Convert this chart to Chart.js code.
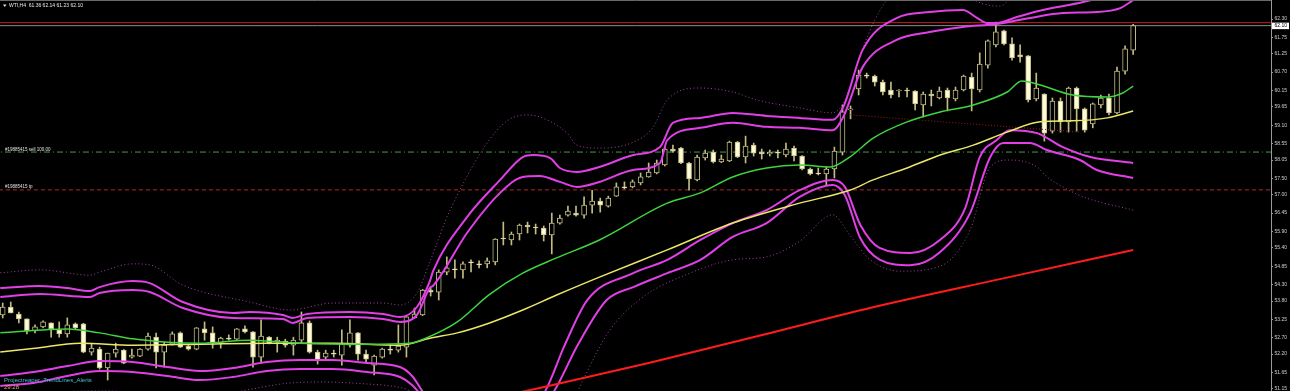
<!DOCTYPE html>
<html>
<head>
<meta charset="utf-8">
<script src="https://cdn.jsdelivr.net/npm/chart.js@4.4.1/dist/chart.umd.min.js"></script>
<style>
html,body{margin:0;padding:0;background:#000;}
#wrap{position:relative;width:1290px;height:391px;}
</style>
</head>
<body>
<div id="wrap"><canvas id="c" width="1290" height="391"></canvas></div>
<script>
// ---- candles (index 0..140), WTI H4 ----
const opens = [
53.38,53.62,53.41,53.26,52.90,53.02,53.14,52.93,52.81,53.11,
53.11,52.26,52.35,51.78,52.23,52.32,52.11,52.14,52.35,52.71,
52.26,52.50,52.84,52.44,52.35,52.96,52.84,52.53,52.68,52.65,
52.96,52.87,52.11,52.71,52.56,52.59,52.47,52.62,53.14,52.26,
52.11,52.23,52.17,52.47,52.84,52.20,51.87,52.11,52.35,52.32,
52.41,53.29,53.38,54.13,54.07,54.67,54.77,54.74,54.98,54.92,
54.92,54.98,55.70,55.64,55.82,56.09,56.03,56.00,55.79,56.15,
56.39,56.45,56.39,56.69,56.81,56.66,56.96,57.24,57.24,57.36,
57.54,57.66,57.90,58.38,58.41,57.96,57.45,58.11,58.29,57.99,
58.02,58.59,58.14,58.50,58.29,58.23,58.29,58.20,58.41,58.17,
57.78,57.66,57.63,57.78,58.29,59.56,60.19,60.61,60.58,60.40,
60.16,60.13,60.16,60.13,59.71,60.04,59.92,60.16,59.89,60.16,
60.55,60.16,60.91,61.52,61.94,61.55,61.22,61.19,59.89,60.04,
58.92,59.83,59.20,60.22,59.59,59.14,59.71,59.92,59.47,60.73,
61.36];
const highs = [
53.74,53.77,53.47,53.26,53.08,53.20,53.14,53.17,53.29,53.14,
53.13,52.53,52.41,52.23,52.53,52.34,52.35,52.37,52.83,52.83,
52.56,52.87,52.87,52.47,53.00,53.17,53.02,52.71,52.78,52.97,
53.05,52.88,53.23,52.73,52.71,52.65,52.71,53.47,53.20,52.32,
52.32,52.32,52.93,53.23,52.85,52.32,52.17,52.38,52.50,53.08,
53.34,53.59,54.15,54.22,54.74,55.13,55.04,54.98,55.04,55.01,
55.10,55.68,56.18,55.88,56.12,56.18,56.12,56.06,56.45,56.39,
56.66,56.66,56.94,57.14,56.90,56.96,57.36,57.39,57.45,57.66,
57.96,58.05,58.44,58.50,58.43,57.98,58.20,58.35,58.35,58.20,
58.62,58.61,58.77,58.56,58.38,58.35,58.35,58.56,58.47,58.18,
57.81,57.81,57.84,58.44,59.71,59.68,60.76,60.67,60.61,60.46,
60.40,60.17,60.22,60.14,60.10,60.16,60.25,60.22,60.25,60.61,
60.67,61.28,61.67,62.21,61.97,61.73,61.52,61.20,60.67,60.05,
59.92,59.92,60.25,60.25,59.62,59.77,60.01,60.04,60.85,61.49,
62.14];
const lows = [
53.29,53.44,53.14,52.81,52.84,52.99,52.71,52.71,52.71,52.96,
52.24,52.17,51.75,51.42,52.11,51.91,52.08,52.12,52.32,51.78,
51.81,52.47,52.40,52.32,52.33,52.62,52.38,52.38,52.62,52.64,
52.84,51.81,51.93,52.51,52.26,52.41,52.17,52.56,52.23,51.90,
52.02,52.11,51.87,52.41,52.02,51.96,51.57,52.08,52.20,52.26,
52.11,53.28,53.36,53.95,53.83,54.59,54.49,54.49,54.68,54.80,
54.80,54.89,55.49,55.49,55.64,55.85,55.82,55.61,55.22,56.12,
56.36,56.36,56.30,56.45,56.48,56.63,56.95,57.18,57.21,57.30,
57.53,57.63,57.87,58.29,57.94,57.14,57.42,58.05,57.96,57.97,
58.00,58.12,57.96,58.17,58.08,58.17,58.11,58.14,58.02,57.75,
57.60,57.60,57.30,57.51,58.20,59.29,60.01,60.52,60.28,60.01,
59.92,59.95,59.95,59.56,59.35,59.68,59.89,59.53,59.83,60.13,
59.53,60.10,60.82,61.46,61.52,61.06,61.00,59.80,59.83,58.62,
58.86,58.89,58.89,58.92,58.89,59.02,59.62,59.41,59.44,60.64,
61.23];
const closes = [
53.62,53.44,53.26,52.90,53.02,53.17,52.96,52.81,53.08,52.99,
52.26,52.38,51.78,52.23,52.35,51.93,52.17,52.35,52.74,52.26,
52.47,52.81,52.41,52.35,52.99,52.84,52.53,52.68,52.65,52.96,
52.87,52.11,52.74,52.53,52.62,52.47,52.62,53.14,52.26,52.02,
52.23,52.20,52.50,52.84,52.20,52.05,52.14,52.35,52.32,52.44,
53.32,53.41,54.13,54.07,54.67,54.80,54.74,54.92,54.95,54.89,
55.01,55.67,55.67,55.82,56.09,56.03,56.00,55.79,56.15,56.30,
56.51,56.39,56.69,56.81,56.69,56.90,57.24,57.21,57.39,57.54,
57.69,57.96,58.38,58.32,57.96,57.48,58.14,58.26,57.99,58.08,
58.59,58.14,58.47,58.26,58.23,58.29,58.26,58.38,58.17,57.78,
57.63,57.63,57.78,58.32,59.50,59.59,60.61,60.58,60.40,60.10,
60.01,60.16,60.13,59.74,60.04,59.98,60.13,59.92,60.16,60.58,
60.19,60.94,61.64,61.91,61.55,61.13,61.16,59.86,60.22,58.86,
59.83,59.20,60.22,59.59,58.95,59.74,59.92,59.47,60.73,61.40,
62.10];

// ---- indicator lines: [candle index, price] ----
const maFast = [[-0.3,52.84],[8,52.96],[12,52.84],[16.1,52.66],[20.4,52.56],[24.4,52.53],[30.6,52.62],[36.8,52.53],[45.1,52.50],[50.4,52.53],[52.4,52.68],[56.3,53.17],[60.3,54.0],[64.4,54.64],[68.6,55.10],[73.9,55.64],[82.3,56.75],[86.4,57.06],[90.4,57.54],[94.6,57.81],[98.7,57.90],[102.5,57.84],[104.9,58.14],[107.8,58.71],[112,59.20],[116.1,59.50],[120.2,59.71],[124.4,60.10],[126.2,60.43],[128.5,60.31],[132.5,60.01],[136.8,59.95],[138.7,60.07],[140,60.28]];
const maMid = [[-0.3,52.26],[4,52.38],[9.6,52.53],[16.1,52.47],[24.4,52.50],[32.7,52.53],[40.9,52.53],[49.2,52.47],[52.9,52.68],[56.3,52.84],[60.3,53.14],[64.4,53.53],[68.6,53.98],[73.9,54.52],[82.3,55.34],[90.4,56.15],[98.7,56.75],[104.9,57.14],[107.8,57.45],[112,57.81],[116.1,58.20],[120.2,58.50],[124.4,58.89],[128.5,59.20],[132.5,59.23],[136.8,59.32],[140,59.53]];
const maSlow = [[60.3,50.85],[66.5,51.18],[80,51.93],[93.8,52.76],[107.4,53.59],[123.5,54.46],[140,55.34]];
const bandUpOuter = [[-0.3,54.19],[4.6,54.25],[8,54.19],[10.8,54.10],[12,54.22],[16.1,54.40],[18.2,54.34],[22.3,53.77],[28.5,53.44],[30.6,53.47],[34.7,53.38],[35.9,53.29],[37.7,53.41],[43,53.47],[47.1,53.41],[49.2,53.32],[51.3,53.62],[52.9,54.40],[53.3,54.70],[57.5,56.33],[61.6,57.45],[64.4,58.14],[65.7,58.20],[67.8,58.11],[69,57.81],[71.1,57.69],[73.9,57.84],[78.1,58.20],[81.4,58.44],[83,59.17],[86.4,59.32],[90.4,59.47],[94.6,59.38],[98.7,59.32],[102.8,59.26],[104.1,59.65],[106.5,61.37],[110.7,62.33],[114.8,62.51],[118.9,62.57],[120.7,62.33],[121.9,62.18],[123.1,62.18],[125.6,62.36],[128.8,62.57],[133.8,62.81],[140,63.24]];
const bandUpInner = [[-0.3,53.92],[4.6,54.01],[10.8,53.92],[12,54.04],[16.1,54.13],[18.2,54.07],[22.3,53.59],[28.5,53.29],[34.7,53.26],[35.9,53.14],[37.7,53.29],[43,53.32],[47.1,53.26],[49.2,53.17],[51.3,53.38],[52.9,54.20],[53.3,54.26],[57.5,55.85],[61.6,57.06],[64.4,57.54],[66.5,57.57],[69,57.39],[71.1,57.24],[73.9,57.39],[78.1,57.75],[81.4,57.96],[82.3,58.65],[86.4,59.02],[90.4,59.17],[94.6,59.05],[98.7,59.02],[102.8,58.95],[104.1,59.35],[106.5,60.85],[110.7,61.67],[114.8,61.91],[118.9,62.06],[123.1,62.15],[127.2,62.33],[131.3,62.48],[135.5,62.51],[138.4,62.63],[140,62.87]];
const bandUpDotted = [[-0.3,54.65],[4.6,54.74],[10.8,54.58],[12,54.67],[16.1,54.92],[18.2,54.89],[22.3,54.28],[30.6,53.77],[35.6,53.53],[40.9,53.74],[47.1,53.74],[49.2,53.68],[51.3,54.04],[52.9,54.98],[55.4,56.54],[61.6,59.05],[64.9,59.41],[66.5,59.35],[69.9,58.86],[71.1,58.50],[73.9,58.41],[78.1,58.59],[80.5,59.02],[82.3,59.86],[86.4,60.22],[90.4,60.10],[93.4,59.86],[98.7,59.62],[102.8,59.47],[104.3,59.86],[106.2,61.22],[108,62.27],[109.5,62.87],[112,63.48],[118,63.17],[121.5,62.75],[123.5,62.69],[126,63.33],[130,63.78],[140,64.23]];
const bandLowInner = [[-0.3,51.54],[3.8,51.66],[8,51.84],[12,51.99],[16.1,51.96],[20.4,51.81],[24.4,51.69],[28.5,51.78],[32.7,51.96],[36.8,52.02],[40.9,52.02],[45.1,51.93],[49.2,51.81],[50.7,51.54],[52.3,50.97],[56.6,49.91],[64.1,50.22],[67.2,51.09],[69.6,52.47],[72.4,53.83],[78.1,54.64],[82.3,55.04],[86.4,55.64],[90.4,56.15],[94.6,56.54],[98.7,57.14],[102.8,57.45],[104.3,57.24],[106.2,56.10],[108.6,55.40],[112.4,55.25],[116.1,55.65],[119.2,56.60],[121,58.14],[123.1,58.65],[124.7,58.95],[128.1,58.86],[131.3,58.44],[134.7,58.14],[140,57.96]];
const bandLowOuter = [[-0.3,51.24],[3.8,51.33],[8,51.54],[12,51.69],[16.1,51.66],[20.4,51.54],[24.4,51.42],[28.5,51.51],[32.7,51.69],[36.8,51.75],[40.9,51.75],[45.1,51.66],[49.2,51.51],[50.7,51.27],[52.3,50.82],[56.6,49.76],[64.1,49.91],[68.3,51.09],[71.2,52.47],[74.8,53.83],[78.1,54.22],[82.3,54.64],[86.4,55.04],[90.4,55.73],[94.6,56.15],[98.7,56.94],[102.8,57.30],[104.3,56.99],[106.2,55.70],[108.6,55.05],[112.4,54.88],[116.1,55.28],[119.8,56.45],[122.3,58.14],[123.9,58.56],[127.2,58.56],[129.3,58.35],[133.4,58.05],[135.5,57.75],[140,57.51]];
const bandLowDotted = [[-0.3,50.97],[12,51.09],[24.4,50.94],[35.6,51.33],[39.7,51.36],[45.1,51.30],[48,51.24],[50.4,51.09],[52.9,50.52],[59.1,49.01],[69,50.22],[75.2,52.93],[79.3,53.92],[85.1,54.64],[90.4,55.04],[94.6,55.13],[98.7,55.60],[102.8,56.40],[104.9,55.79],[107.4,55.05],[111.1,54.70],[116.1,54.85],[119.8,55.94],[122.3,57.84],[124.7,58.05],[128.1,57.84],[129.3,57.54],[131.3,57.24],[133.8,56.94],[140,56.54]];
const trendLine = [[105,59.41],[133.4,58.89]];

// ---- horizontal levels and axis ----
const sellPrice = 58.29, tpPrice = 57.15, stopPrice = 62.19, bidPrice = 62.10;
const sellLabel = '#19885415 sell 100.00', tpLabel = '#19885415 tp';
const yTicks = [62.30,61.75,61.25,60.70,60.15,59.65,59.10,58.55,58.05,57.50,57.00,56.45,55.90,55.40,54.85,54.30,53.80,53.25,52.70,52.20,51.65,51.15];
const symbol = 'WTI,H4';
const indicatorName = 'Projectreaper_TrendLines_Alerts', timerText = '29:28';

const X_MIN = -0.334, X_MAX = 157.07, Y_MIN = 51.088, Y_MAX = 62.873;
const OUTLINE = '#c2bc84', BEAR = '#fffbd8';

const toXY = arr => arr.map(p => ({x: p[0], y: p[1]}));
const hline = v => [{x: X_MIN - 1, y: v}, {x: X_MAX + 1, y: v}];
const line = (data, color, width, dash) => ({
  type: 'line', data: toXY(data), borderColor: color, borderWidth: width,
  borderDash: dash || [], pointRadius: 0, fill: false, order: 0, clip: 0,
  cubicInterpolationMode: 'monotone'
});
const level = (v, color, width, dash) => ({
  type: 'line', data: hline(v), borderColor: color, borderWidth: width,
  borderDash: dash || [], pointRadius: 0, fill: false, order: 3, clip: 0
});

const overlay = {
  id: 'overlay',
  afterDraw(chart) {
    const ctx = chart.ctx, ys = chart.scales.y, ca = chart.chartArea;
    ctx.save();
    ctx.strokeStyle = '#6a6a6a'; ctx.lineWidth = 1;
    ctx.beginPath(); ctx.moveTo(0, 0.5); ctx.lineTo(ca.right, 0.5); ctx.stroke();
    const n = closes.length - 1;
    ctx.fillStyle = '#e8e8e8';
    ctx.beginPath(); ctx.moveTo(3, 4.5); ctx.lineTo(6.5, 4.5); ctx.lineTo(4.75, 7); ctx.closePath(); ctx.fill();
    ctx.font = '5px "Liberation Sans"'; ctx.textBaseline = 'middle';
    ctx.fillText(symbol + '  ' + opens[n].toFixed(2) + ' ' + highs[n].toFixed(2) + ' ' + lows[n].toFixed(2) + ' ' + closes[n].toFixed(2), 9, 6);
    ctx.font = '4.5px "Liberation Sans"'; ctx.fillStyle = '#e0e0e0'; ctx.textBaseline = 'alphabetic';
    ctx.fillText(sellLabel, 5, ys.getPixelForValue(sellPrice) - 1.5);
    ctx.fillText(tpLabel, 5, ys.getPixelForValue(tpPrice) - 1.5);
    const py = ys.getPixelForValue(bidPrice);
    ctx.fillStyle = '#ffffff'; ctx.fillRect(ca.right + 1, py - 3, 17, 6.5);
    ctx.fillStyle = '#000'; ctx.font = '5px "Liberation Sans"'; ctx.textBaseline = 'middle';
    ctx.fillText(bidPrice.toFixed(2), ca.right + 3.5, py + 0.3);
    ctx.font = '6px "Liberation Sans"'; ctx.textBaseline = 'middle';
    ctx.fillStyle = '#3cc4d0'; ctx.fillText(indicatorName, 4, 380);
    ctx.fillStyle = '#e0a860'; ctx.fillText(timerText, 4, 387);
    ctx.restore();
  }
};

new Chart(document.getElementById('c'), {
  type: 'bar',
  data: {
    datasets: [
      line(maFast, '#3fd43f', 1.5),
      line(maMid, '#ece66a', 1.5),
      line(maSlow, '#ff1c1c', 2),
      line(bandUpOuter, '#e040e6', 2),
      line(bandUpInner, '#e040e6', 2),
      line(bandLowInner, '#e040e6', 2),
      line(bandLowOuter, '#e040e6', 2),
      line(bandUpDotted, '#a044a6', 1, [1, 2.5]),
      line(bandLowDotted, '#a044a6', 1, [1, 2.5]),
      line(trendLine, '#9a2020', 1, [1, 2]),
      level(sellPrice, '#4a9a4a', 1, [6, 3, 1, 3]),
      level(tpPrice, '#b02a2a', 1, [4, 3]),
      level(stopPrice, '#c81e1e', 1),
      level(bidPrice, '#8c8c8c', 1),
      {
        type: 'bar', order: 2, grouped: false, barThickness: 1,
        data: lows.map((l, i) => ({x: i, y: [l, highs[i]]})),
        backgroundColor: OUTLINE, borderWidth: 0
      },
      {
        type: 'bar', order: 1, grouped: false, barThickness: 5,
        data: opens.map((o, i) => ({x: i, y: [o, closes[i]]})),
        backgroundColor: ctx => closes[ctx.dataIndex] >= opens[ctx.dataIndex] ? '#000000' : BEAR,
        borderColor: OUTLINE, borderWidth: 1, borderSkipped: false
      }
    ]
  },
  options: {
    responsive: false, animation: false, events: [],
    layout: {padding: 0},
    plugins: {legend: {display: false}, tooltip: {enabled: false}},
    scales: {
      x: {type: 'linear', min: X_MIN, max: X_MAX, offset: false, display: false},
      y: {
        type: 'linear', position: 'right', min: Y_MIN, max: Y_MAX,
        afterBuildTicks: s => { s.ticks = yTicks.map(v => ({value: v})); },
        afterFit: s => { s.width = 19; s.paddingTop = 0; s.paddingBottom = 0; },
        grid: {display: true, drawOnChartArea: false, drawTicks: true, tickLength: 2, color: '#9a9a9a'},
        border: {display: true, color: '#9a9a9a', width: 1},
        ticks: {color: '#cfcfcf', font: {size: 5, family: 'Liberation Sans'}, padding: 1.5,
                autoSkip: false, callback: v => Number(v).toFixed(2)}
      }
    }
  },
  plugins: [overlay]
});
</script>
</body>
</html>
